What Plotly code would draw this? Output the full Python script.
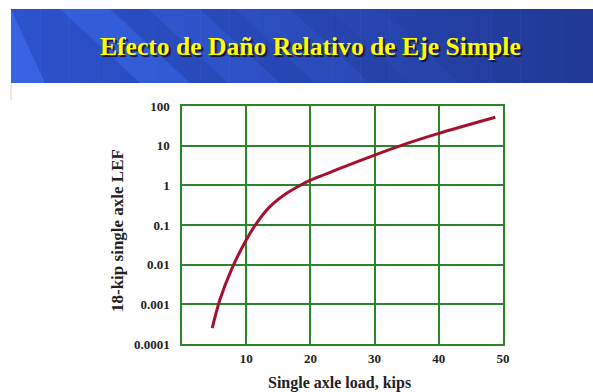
import plotly.graph_objects as go

# Load equivalency factor vs. single axle load
axle_load_kips = [4.7, 5.9, 7.7, 10, 11.6, 13.7, 16.3, 18.9, 20, 24, 30, 34.4, 40, 48.8]
lef = [0.00025, 0.0013, 0.0075, 0.042, 0.11, 0.29, 0.63, 1.1, 1.35, 2.45, 5.8, 10.5, 20.4, 52]

x_ticks = [10, 20, 30, 40, 50]
y_ticks = [0.0001, 0.001, 0.01, 0.1, 1, 10, 100]
y_tick_text = ["0.0001", "0.001", "0.01", "0.1", "1", "10", "100"]

title_text = "Efecto de Daño Relativo de Eje Simple"
x_title = "Single axle load, kips"
y_title = "18-kip single axle LEF"

W, H = 593, 392
ML, MR, MT, MB = 182, 90, 106, 48
PW, PH = W - ML - MR, H - MT - MB
GREEN = "#2b862b"
SERIF = "Liberation Serif, Times New Roman, serif"


def px(x):
    """Pixel x -> paper x."""
    return (x - ML) / PW


def py(y):
    """Pixel y (from top) -> paper y."""
    return (H - MB - y) / PH


fig = go.Figure()
fig.add_trace(go.Scatter(
    x=axle_load_kips, y=lef, mode="lines",
    line=dict(color="#a5102e", width=3, shape="spline", smoothing=0.8),
    hoverinfo="skip", showlegend=False,
))

# Banner background: horizontal blue gradient built from thin strips
shapes = []
bx0, bx1, by0, by1 = 11, 593, 9, 83
n = 40
c0 = (44, 82, 205)
c1 = (34, 58, 150)
for i in range(n):
    t = i / (n - 1)
    col = tuple(int(c0[k] + (c1[k] - c0[k]) * t) for k in range(3))
    xa = bx0 + (bx1 - bx0) * i / n
    xb = min(bx0 + (bx1 - bx0) * (i + 1) / n + 0.6, bx1)
    shapes.append(dict(type="rect", xref="paper", yref="paper",
                       x0=px(xa), x1=px(xb), y0=py(by1), y1=py(by0),
                       fillcolor="rgb(%d,%d,%d)" % col, line=dict(width=0), layer="below"))

# Diagonal light stripes across the banner
stripes = [(-70, -35, 0.45), (60, 110, 0.35), (148, 200, 0.22), (235, 290, 0.14), (330, 380, 0.08)]
shift = 80
for a, b, alpha in stripes:
    pts = [(a, by0), (b, by0), (b + shift, by1), (a + shift, by1)]
    pts = [(max(bx0, min(bx1, x)), y) for x, y in pts]
    path = "M " + " L ".join("%f,%f" % (px(x), py(y)) for x, y in pts) + " Z"
    shapes.append(dict(type="path", xref="paper", yref="paper", path=path,
                       fillcolor="rgba(70,120,255,%f)" % alpha, line=dict(width=0), layer="below"))

# Slide edge line under the banner
shapes.append(dict(type="line", xref="paper", yref="paper",
                   x0=px(bx0), x1=px(bx0), y0=py(100), y1=py(by1),
                   line=dict(color="#d0d0d0", width=1), layer="below"))

annotations = [
    dict(text="<b>%s</b>" % title_text, xref="paper", yref="paper",
         x=px(310), y=py(46), showarrow=False, xanchor="center", yanchor="middle",
         font=dict(family=SERIF, size=25.6, color="#ffff00",
                   shadow="2px 2px 1px #14143a")),
    dict(text="<b>%s</b>" % x_title, xref="paper", yref="paper",
         x=px(339), y=py(383), showarrow=False, xanchor="center", yanchor="middle",
         font=dict(family=SERIF, size=16, color="#222222")),
    dict(text="<b>%s</b>" % y_title, xref="paper", yref="paper",
         x=px(117), y=py(231), showarrow=False, xanchor="center", yanchor="middle",
         textangle=-90, font=dict(family=SERIF, size=17, color="#222222")),
]

fig.update_layout(
    width=W, height=H,
    margin=dict(l=ML, r=MR, t=MT, b=MB, autoexpand=False),
    paper_bgcolor="white", plot_bgcolor="white",
    shapes=shapes, annotations=annotations,
    font=dict(family=SERIF, color="#111111"),
)

fig.update_xaxes(
    range=[0, 50], tickvals=x_ticks, ticktext=["<b>%d</b>" % v for v in x_ticks],
    showgrid=True, gridcolor=GREEN, gridwidth=1.5,
    showline=True, linecolor=GREEN, linewidth=1.5, mirror=True,
    zeroline=False, ticks="", ticklabelstandoff=2, automargin=False,
    tickfont=dict(family=SERIF, size=13, color="#222222"),
)
fig.update_yaxes(
    type="log", range=[-4, 2], tickvals=y_ticks, ticktext=["<b>%s</b>" % t for t in y_tick_text],
    showgrid=True, gridcolor=GREEN, gridwidth=1.5,
    showline=True, linecolor=GREEN, linewidth=1.5, mirror=True,
    zeroline=False, ticks="", ticklabelstandoff=8, automargin=False,
    tickfont=dict(family=SERIF, size=13, color="#222222"),
)

fig.write_html("out.html")
